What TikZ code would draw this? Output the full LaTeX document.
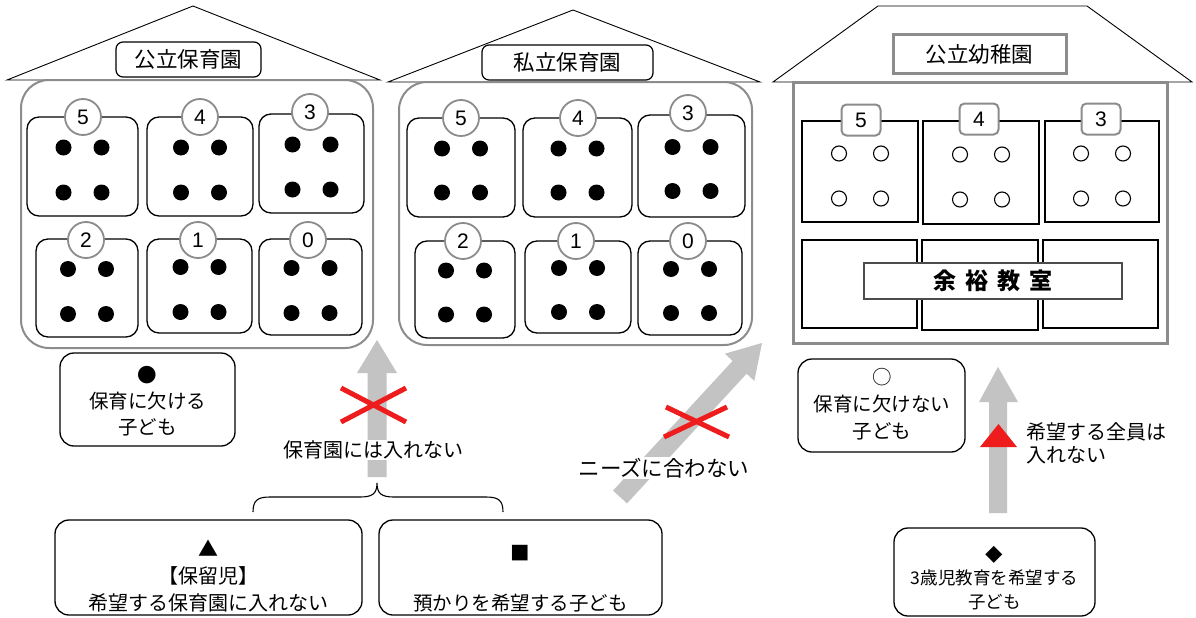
\documentclass[tikz,border=0pt]{standalone}
\usepackage{fontspec}
\setmainfont{Noto Sans CJK JP}
\newfontfamily\numfont{Liberation Sans}
\usetikzlibrary{calc}
\definecolor{wallgray}{HTML}{8C8C8C}
\definecolor{arrowgray}{HTML}{C3C3C3}
\definecolor{xred}{HTML}{EE1C1C}
\tikzset{
  roof/.style={draw=black, line width=0.9pt, fill=white},
  hlabel/.style={draw=black, line width=1.2pt, rounded corners=7pt, fill=white, inner sep=0pt, font=\fontsize{21.5}{24}\selectfont},
  hwall/.style={draw=wallgray, line width=2pt, rounded corners=28pt},
  room/.style={draw=black, line width=1.3pt, rounded corners=12pt, inner sep=0pt},
  agecirc/.style={circle, draw=wallgray, line width=1.8pt, fill=white, minimum size=36pt, inner sep=0pt, font=\numfont\fontsize{21}{21}\selectfont},
  kid/.style={circle, fill=black, minimum size=16pt, inner sep=0pt},
  freekid/.style={circle, draw=black, line width=1.1pt, minimum size=15pt, inner sep=0pt},
  kglabel/.style={draw=wallgray, line width=3pt, fill=white, inner sep=0pt, font=\fontsize{21.5}{24}\selectfont},
  kgwall/.style={draw=wallgray, line width=3pt},
  kgroom/.style={draw=black, line width=2.4pt, inner sep=0pt},
  kgnum/.style={draw=wallgray, line width=2pt, rounded corners=5pt, fill=white, minimum width=39pt, minimum height=31pt, inner sep=0pt, font=\numfont\fontsize{21}{21}\selectfont},
  yoyu/.style={draw=black!70, line width=1.5pt, fill=white, inner sep=0pt, font=\bfseries\fontsize{23}{24}\selectfont},
  infobox/.style={draw=black, line width=1.3pt, rounded corners=14pt, fill=white, inner sep=0pt},
  infotext/.style={align=center, inner sep=0pt, font=\fontsize{19.5}{26}\selectfont},
  bigarrow/.style={fill=arrowgray},
  cross/.style={draw=xred, line width=5pt},
  note/.style={inner sep=1pt, font=\fontsize{20}{24}\selectfont},
}
\begin{document}
\begin{tikzpicture}[x=1pt,y=-1pt]
\useasboundingbox (0,0) rectangle (1196,618);
\fill[white] (0,0) rectangle (1196,618);

% ---------- House 1 : public nursery ----------
\draw[roof] (7,80) -- (193,6) -- (380,80) -- cycle;
\draw[hwall] (21,80) rectangle (373,348);
\node[hlabel, minimum width=145pt, minimum height=35pt] (L1) at (188.5,59.5) {公立保育園};
\foreach \n/\x/\y/\w/\h/\cx/\cy in {5/82.5/166.5/111/99/83/117, 4/200/166.5/106/99/200/117, 3/311.5/163.5/105/99/310/112, 2/87/288/102/98/86/240, 1/199.5/286/105/94/198/240, 0/310.5/287/103/96/308/240}{
  \node[room, minimum width=\w pt, minimum height=\h pt] (A\n) at (\x,\y) {};
  \node[agecirc] (Ac\n) at (\cx,\cy) {\n};
  \foreach \dx in {-19,19} \foreach \dy in {-19,26} \node[kid] at ($(A\n.center)+(\dx,\dy)$) {};
}

% ---------- House 2 : private nursery ----------
\draw[roof] (388,82) -- (573,10) -- (760,82) -- cycle;
\draw[hwall] (399,82) rectangle (752,345);
\node[hlabel, minimum width=171pt, minimum height=35pt] (L2) at (567.5,62.5) {私立保育園};
\foreach \n/\x/\y/\w/\h/\cx/\cy in {5/461/167.5/108/99/461/118, 4/577.5/167.5/109/99/578/118, 3/691.5/166/107/102/688/113, 2/465/289.5/100/97/463/241, 1/578/287/106/92/576/241, 0/690/288/104/94/688/241}{
  \node[room, minimum width=\w pt, minimum height=\h pt] (B\n) at (\x,\y) {};
  \node[agecirc] (Bc\n) at (\cx,\cy) {\n};
  \foreach \dx in {-19,19} \foreach \dy in {-19,25} \node[kid] at ($(B\n.center)+(\dx,\dy)$) {};
}

% ---------- House 3 : public kindergarten ----------
\draw[roof] (773,82) -- (878,6) -- (1087,6) -- (1192,82) -- cycle;
\draw[kgwall, fill=white] (793,82) rectangle (1167,343);
\node[kglabel, minimum width=173pt, minimum height=38pt] (L3) at (979.5,54) {公立幼稚園};
\foreach \n/\x/\y/\w/\h/\cx/\cy in {5/860/171.5/116/101/861/120, 4/981/172.5/116/103/979/119, 3/1102/171.5/114/101/1101/119}{
  \node[kgroom, minimum width=\w pt, minimum height=\h pt] (C\n) at (\x,\y) {};
  \node[kgnum] (Cc\n) at (\cx,\cy) {\n};
  \foreach \dx in {-21,21} \foreach \dy in {-18,27} \node[freekid] at ($(C\n.center)+(\dx,\dy)$) {};
}
\node[kgroom, minimum width=115pt, minimum height=88pt] (CL) at (859.5,284) {};
\node[kgroom, minimum width=116pt, minimum height=90pt] (CM) at (980,285) {};
\node[kgroom, minimum width=115pt, minimum height=88pt] (CR) at (1100.5,284) {};
\node[yoyu, minimum width=258pt, minimum height=36pt] (Y) at (993,281) {余\hspace{9pt}裕\hspace{9pt}教\hspace{9pt}室};

% ---------- arrows ----------
\fill[bigarrow] (367.5,477) -- (367.5,373) -- (357,373) -- (377,340) -- (397,373) -- (386.5,373) -- (386.5,477) -- cycle;
\fill[bigarrow] (627,503.4) -- (746.6,373.7) -- (754.3,380.9) -- (762,343) -- (724.9,353.7) -- (732.6,360.9) -- (613,490.6) -- cycle;
\fill[bigarrow] (989,513) -- (989,402) -- (979,402) -- (998,367) -- (1018,402) -- (1007,402) -- (1007,513) -- cycle;

% red crosses
\draw[cross] (341,388) -- (406,422);
\draw[cross] (341,422) -- (406,388);
\draw[cross] (666,407) -- (729,437);
\draw[cross] (664,437) -- (727,407);
% red triangle
\fill[xred] (980,447) -- (998.5,424) -- (1017,447) -- cycle;

% notes
\node[note, fill=white] (N1) at (373,450) {保育園には入れない};
\node[note, fill=white, font=\fontsize{21.5}{24}\selectfont] (N2) at (664,468) {ニーズに合わない};
\node[note, anchor=west, align=left, font=\fontsize{20}{23}\selectfont] (N3) at (1025,443) {希望する全員は\\入れない};

% brace
\coordinate (brL) at (253,512);
\coordinate (brR) at (503,512);
\draw[line width=1.1pt] (brL) .. controls (253,500) and (258,497) .. (270,497) -- (360,497) .. controls (372,497) and (377,494) .. (377,483) .. controls (377,494) and (382,497) .. (394,497) -- (486,497) .. controls (498,497) and (503,500) .. (brR);

% ---------- info boxes ----------
\node[infobox, minimum width=175pt, minimum height=93pt] (IA) at (147.5,399.5) {};
\node[infotext] (TA) at (147.5,401) {●\\保育に欠ける\\子ども};
\node[infobox, minimum width=307pt, minimum height=95pt] (IB) at (208.5,567.5) {};
\node[infotext, font=\fontsize{20}{27}\selectfont] (TB) at (208.5,576) {▲\\【保留児】\\希望する保育園に入れない};
\node[infobox, minimum width=283pt, minimum height=95pt] (IC) at (520.5,567.5) {};
\node[infotext] (TC) at (520.5,553) {■};
\node[infotext] (TC2) at (520.5,603) {預かりを希望する子ども};
\node[infobox, minimum width=167pt, minimum height=93pt] (ID) at (881.5,405.5) {};
\node[infotext, font=\fontsize{19.5}{27}\selectfont] (TD) at (882,404) {○\\保育に欠けない\\子ども};
\node[infobox, minimum width=201pt, minimum height=88pt] (IE) at (994.5,572) {};
\node[infotext, font=\fontsize{17.5}{23.5}\selectfont] (TE) at (994.5,578) {◆\\3歳児教育を希望する\\子ども};
\end{tikzpicture}
\end{document}
